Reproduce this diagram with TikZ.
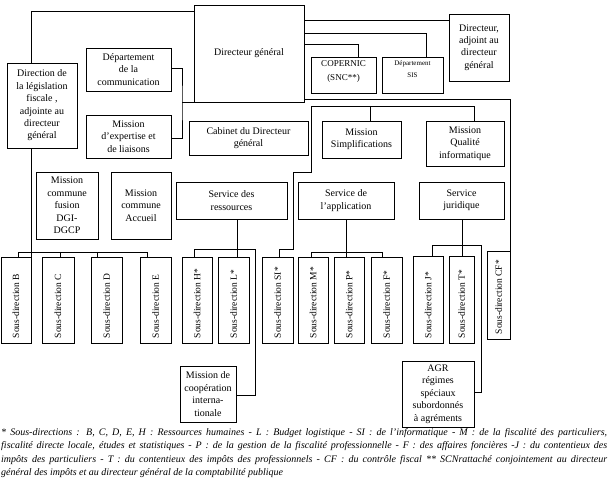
\documentclass[tikz,border=0pt]{standalone}
\usepackage{fontspec}
\setmainfont{Liberation Serif}
\usetikzlibrary{calc}
\tikzset{
 box/.style={draw, line width=0.8pt, inner sep=0pt, align=center, font=\fontsize{10}{12.4}\selectfont},
 toptext/.style={anchor=north, align=center, inner sep=4pt},
 conn/.style={line width=0.8pt},
 sdtext/.style={rotate=90, anchor=west, inner sep=0pt, font=\fontsize{9.5}{11}\selectfont},
 foottext/.style={anchor=north west, inner sep=0pt, text width=606pt, align=justify, font=\fontsize{10}{13.5}\selectfont\itshape},
}
\newcommand\bx[7][]{\node[box,minimum width={(#5-#3)*1pt},minimum height={(#6-#4)*1pt},#1] (#2) at ({(#3+#5)/2},{(#4+#6)/2}) {#7};}
\newcommand\sd[6]{\bx{#1}{#2}{#3}{#4}{#5}{}\node[sdtext] (#1t) at ($(#1.south)+(0,-5)$) {#6};}
\begin{document}
\begin{tikzpicture}[x=1pt,y=-1pt]
\fill[white] (0,0) rectangle (608,478);
\useasboundingbox (0,0) rectangle (608,478);
% boxes
\bx{dg}{194}{5}{304}{102}{Directeur général}
\bx{dleg}{7}{63}{77}{148}{Direction de\\la législation\\fiscale ,\\adjointe au\\directeur\\général}
\bx{comm}{86}{48}{171}{91}{Département\\de la\\communication}
\bx{expert}{86}{115}{171}{158}{Mission\\d’expertise et\\de liaisons}
\bx{cab}{189}{121}{308}{155}{Cabinet du Directeur\\général}
\bx{cop}{311}{57}{376}{93}{}
\node[toptext, font=\fontsize{9}{14}\selectfont] (copt) at (cop.north) {COPERNIC\\(SNC**)};
\bx{sis}{382}{57}{443}{93}{}
\node[toptext, font=\fontsize{7}{12}\selectfont] (sist) at (sis.north) {Département\\SIS};
\bx{dadj}{449}{14}{509}{81}{Directeur,\\adjoint au\\directeur\\général}
\bx{msimp}{322}{121}{401}{158}{Mission\\Simplifications}
\bx{mqual}{426}{121}{504}{166}{Mission\\Qualité\\informatique}
\bx{mfus}{36}{172}{98}{239}{Mission\\commune\\fusion\\DGI-\\DGCP}
\bx{macc}{111}{172}{171}{239}{Mission\\commune\\Accueil}
\bx{sres}{176}{182}{287}{219}{Service des\\ressources}
\bx{sapp}{298}{182}{394}{219}{Service de\\l’application}
\bx{sjur}{419}{182}{504}{219}{Service\\juridique}
\bx{mcoop}{180}{366}{236}{422}{Mission de\\coopération\\interna-\\tionale}
\bx{agr}{402}{361}{474}{427}{AGR\\régimes\\spéciaux\\subordonnés\\à agréments}
% sous-directions
\sd{sdb}{1}{257}{31}{343}{Sous-direction B}
\sd{sdc}{42}{257}{74}{343}{Sous-direction C}
\sd{sdd}{91}{257}{122}{343}{Sous-direction D}
\sd{sde}{140}{257}{171}{343}{Sous-direction E}
\sd{sdh}{182}{257}{212}{343}{Sous-direction H*}
\sd{sdl}{218}{257}{249}{343}{Sous-direction L*}
\sd{sdsi}{262}{257}{293}{343}{Sous-direction SI*}
\sd{sdm}{298}{257}{328}{343}{Sous-direction M*}
\sd{sdp}{334}{257}{364}{343}{Sous-direction P*}
\sd{sdf}{371}{257}{402}{343}{Sous-direction F*}
\sd{sdj}{413}{256}{443}{343}{Sous-direction J*}
\sd{sdt}{449}{256}{474}{343}{Sous-direction T*}
\sd{sdcf}{487}{251}{510}{339}{Sous-direction CF*}
% connectors
\draw[conn] (dg.west |- 0,11) -| (dleg.north -| 31,0);
\draw[conn] (dleg.south -| sdb.east) -- (sdb.north east);
\draw[conn] (sdb.north -| 18,0) |- (147,252) -- (sde.north -| 147,0);
\draw[conn] (60,252) -- (sdc.north -| 60,0);
\draw[conn] (97,252) -- (sdd.north -| 97,0);
\draw[conn] (comm.east |- 0,68) -| (dg.south west -| 182,0) |- (expert.east |- 0,138);
\draw[conn] (dg.south west -| 182,0) -- (dg.south west);
\draw[conn] (dg.east |- 0,20) -- (dadj.west |- 0,20);
\draw[conn] (dg.east |- 0,33) -| (sis.north -| 426,0);
\draw[conn] (dg.east |- 0,44) -| (cop.north -| 358,0);
\draw[conn] (dg.east |- 0,99) -| (sdcf.north east);
\draw[conn] (sdsi.north -| 279,0) -- (279,249) -- (293,249) -- (293,172) -- (311,172) -- (311,106) -| (mqual.north -| 474,0);
\draw[conn] (370,106) -- (msimp.north -| 370,0);
\draw[conn] (sres.south -| 237,0) -- (sdl.north -| 237,0);
\draw[conn] (sdh.north -| 194,0) |- (255,249) |- (mcoop.east |- 0,395);
\draw[conn] (sapp.south -| 346,0) -- (sdp.north -| 346,0);
\draw[conn] (sdm.north -| 311,0) |- (382,252) -- (sdf.north -| 382,0);
\draw[conn] (sjur.south -| 462,0) -- (sdt.north -| 462,0);
\draw[conn] (sdj.north -| 432,0) |- (481,245) |- (agr.east |- 0,392);
% footnote
\node[foottext] (foot) at (1,428) {\hyphenpenalty=10000\relax * Sous-directions : B, C, D, E, H : Ressources humaines - L : Budget logistique - SI : de l’informatique - M : de la fiscalité des particuliers,\linebreak fiscalité directe locale, études et statistiques - P : de la gestion de la fiscalité professionnelle - F : des affaires foncières -J : du contentieux des\linebreak impôts des particuliers - T : du contentieux des impôts des professionnels - CF : du contrôle fiscal ** SCNrattaché conjointement au directeur\linebreak général des impôts et au directeur général de la comptabilité publique};
\end{tikzpicture}
\end{document}
